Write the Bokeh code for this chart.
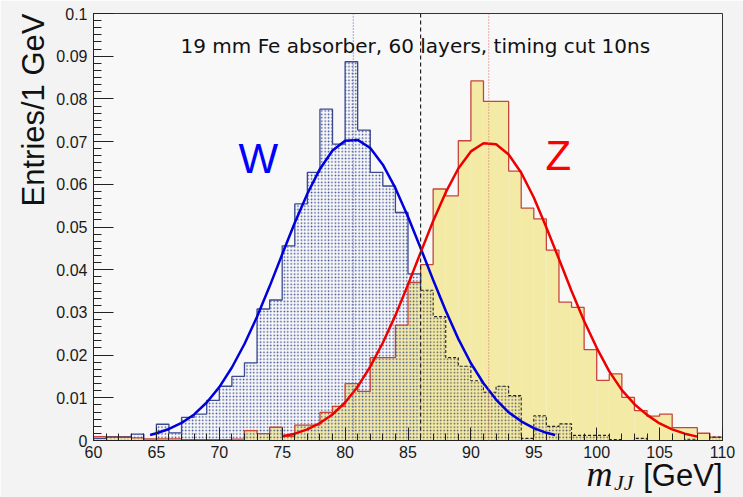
import numpy as np
from bokeh.plotting import figure
from bokeh.models import Span, Label, Range1d, FixedTicker, Title
from bokeh.embed import file_html
from bokeh.resources import INLINE

# ---------------- data ----------------
bin_lo = list(range(60, 110))          # bin lower edges (1 GeV bins)
bin_width = 1.0
cut_value = 86.0
w_mean_line = 80.65
z_mean_line = 91.42

w_entries = [0.0005, 0.0008, 0.0008, 0.0015, 0.0000, 0.0038, 0.0018, 0.0054, 0.0062, 0.0094,
             0.0127, 0.0150, 0.0182, 0.0308, 0.0329, 0.0456, 0.0554, 0.0628, 0.0776, 0.0694,
             0.0887, 0.0727, 0.0628, 0.0596, 0.0534, 0.0390, 0.0352, 0.0290, 0.0194, 0.0174,
             0.0140, 0.0113, 0.0127, 0.0105, 0.0005, 0.0058, 0.0033, 0.0039, 0.0012, 0.0012,
             0.0012, 0.0002, 0.0000, 0.0005, 0.0000, 0.0000, 0.0000, 0.0003, 0.0000, 0.0008]

z_entries = [0.0009, 0.0009, 0.0009, 0.0006, 0.0004, 0.0004, 0.0004, 0.0002, 0.0002, 0.0002,
             0.0002, 0.0003, 0.0023, 0.0016, 0.0031, 0.0010, 0.0036, 0.0036, 0.0066, 0.0080,
             0.0133, 0.0115, 0.0194, 0.0194, 0.0270, 0.0370, 0.0412, 0.0589, 0.0573, 0.0702,
             0.0842, 0.0794, 0.0794, 0.0631, 0.0544, 0.0519, 0.0446, 0.0324, 0.0312, 0.0213,
             0.0141, 0.0156, 0.0101, 0.0070, 0.0057, 0.0062, 0.0030, 0.0030, 0.0017, 0.0008]

w_fit_x = [64.5, 65, 66, 67, 68, 69, 70, 71, 72, 73, 74, 75, 76, 77, 78, 79, 80, 81, 82, 83,
           84, 85, 86, 87, 88, 89, 90, 91, 92, 93, 94, 95, 96, 96.7]
w_fit_y = [0.0013, 0.0017, 0.0027, 0.0041, 0.0061, 0.0089, 0.0125, 0.0171, 0.0226, 0.0290,
           0.0361, 0.0436, 0.0510, 0.0578, 0.0636, 0.0679, 0.0702, 0.0704, 0.0685, 0.0646,
           0.0591, 0.0524, 0.0451, 0.0376, 0.0304, 0.0238, 0.0181, 0.0134, 0.0096, 0.0066,
           0.0045, 0.0029, 0.0018, 0.0013]

z_fit_x = [75, 76, 77, 78, 79, 80, 81, 82, 83, 84, 85, 86, 87, 88, 89, 90, 91, 92, 93, 94,
           95, 96, 97, 98, 99, 100, 101, 102, 103, 104, 105, 106, 107, 108]
z_fit_y = [0.0010, 0.0016, 0.0026, 0.0041, 0.0061, 0.0089, 0.0126, 0.0173, 0.0229, 0.0293,
           0.0365, 0.0440, 0.0514, 0.0581, 0.0637, 0.0677, 0.0696, 0.0694, 0.0670, 0.0627,
           0.0569, 0.0499, 0.0425, 0.0350, 0.0280, 0.0217, 0.0162, 0.0118, 0.0085, 0.0060,
           0.0040, 0.0026, 0.0016, 0.0009]

x_major = [60, 65, 70, 75, 80, 85, 90, 95, 100, 105, 110]
x_tick_labels = ["60", "65", "70", "75", "80", "85", "90", "95", "100", "105", "110"]
y_major = [0.0, 0.01, 0.02, 0.03, 0.04, 0.05, 0.06, 0.07, 0.08, 0.09, 0.1]
y_tick_labels = ["0", "0.01", "0.02", "0.03", "0.04", "0.05", "0.06", "0.07", "0.08", "0.09", "0.1"]

title_text = "19 mm Fe absorber, 60 layers, timing cut 10ns"
y_title = "Entries/1 GeV"

# ---------------- helpers ----------------
def outline(lo, vals, start_zero=True):
    xs, ys = [], []
    if start_zero:
        xs.append(lo[0]); ys.append(0.0)
    for l, v in zip(lo, vals):
        xs += [l, l + bin_width]
        ys += [v, v]
    return xs, ys

lo = np.array(bin_lo, dtype=float)
w = np.array(w_entries)
z = np.array(z_entries)
left_mask = lo < cut_value
right_mask = ~left_mask

# ---------------- figure ----------------
p = figure(width=743, height=497, output_backend="svg", toolbar_location=None,
           x_range=Range1d(60, 110), y_range=Range1d(0, 0.1),
           min_border_left=93, min_border_right=21, min_border_top=13, min_border_bottom=57)
p.background_fill_color = "#f8f8f8"
p.border_fill_color = "#f3f3f3"
p.outline_line_color = "#333333"
p.outline_line_width = 1
p.grid.visible = False

# Z histogram (yellow)
p.quad(left=lo, right=lo + bin_width, bottom=0, top=z, fill_color="#f3eaa6",
       line_color=None)
# W histogram, dotted fill
p.quad(left=lo[left_mask], right=lo[left_mask] + bin_width, bottom=0, top=w[left_mask],
       fill_color=None, line_color=None, hatch_pattern="dot", hatch_color="#3c4d95",
       hatch_scale=3.4, hatch_weight=1.0)
p.quad(left=lo[right_mask], right=lo[right_mask] + bin_width, bottom=0, top=w[right_mask],
       fill_color=None, line_color=None, hatch_pattern="dot", hatch_color="#555555",
       hatch_scale=3.4, hatch_weight=1.0)

# outlines
zx, zy = outline(list(lo), list(z))
p.line(zx, zy, line_color="#c8453a", line_width=1.3)

wlx, wly = outline(list(lo[left_mask]), list(w[left_mask]))
wlx.append(cut_value); wly.append(float(w[right_mask][0]))
p.line(wlx, wly, line_color="#3a4a90", line_width=1.3)
wrx, wry = outline(list(lo[right_mask]), list(w[right_mask]), start_zero=False)
p.line(wrx, wry, line_color="#222222", line_width=1.1, line_dash="3 2")

# fits
p.line(w_fit_x, w_fit_y, line_color="#0000dd", line_width=2.5)
p.line(z_fit_x, z_fit_y, line_color="#ee0000", line_width=2.5)

# vertical lines
p.add_layout(Span(location=w_mean_line, dimension="height", line_color="#5555cc",
                  line_dash="1 2", line_width=1))
p.add_layout(Span(location=z_mean_line, dimension="height", line_color="#d86060",
                  line_dash="1 2", line_width=1))
p.add_layout(Span(location=cut_value, dimension="height", line_color="#222222",
                  line_dash="4 3", line_width=1.2))

# axes
p.xaxis.ticker = FixedTicker(ticks=x_major, minor_ticks=list(np.arange(60, 111, 1.0)))
p.xaxis.major_label_overrides = {t: s for t, s in zip(x_major, x_tick_labels)}
p.yaxis.ticker = FixedTicker(ticks=y_major, minor_ticks=list(np.arange(0, 0.1001, 0.01 / 6)))
p.yaxis.major_label_overrides = {t: s for t, s in zip(y_major, y_tick_labels)}
for ax in (p.xaxis, p.yaxis):
    ax.axis_line_color = "#222222"
    ax.major_tick_line_color = "#222222"
    ax.minor_tick_line_color = "#222222"
    ax.major_tick_out = 0
    ax.minor_tick_out = 0
    ax.major_label_text_font = "Liberation Sans"
    ax.major_label_text_font_size = "16px"
    ax.major_label_text_color = "#1a1a1a"
p.yaxis.major_tick_in = 20
p.yaxis.minor_tick_in = 8
p.yaxis.major_label_standoff = 6
p.xaxis.major_tick_in = 13
p.xaxis.minor_tick_in = 7
p.xaxis.major_label_standoff = 5

# texts inside the frame (screen units measured from the frame's bottom-left corner)
p.add_layout(Label(x=87, y=395, x_units="screen", y_units="screen", text=title_text,
                   text_font="DejaVu Sans", text_font_size="20px",
                   text_color="#111111", text_baseline="middle"))
p.add_layout(Label(x=145, y=282, x_units="screen", y_units="screen", text="W",
                   text_font="Liberation Sans", text_font_size="42px",
                   text_color="#0000ff", text_baseline="alphabetic"))
p.add_layout(Label(x=452, y=285, x_units="screen", y_units="screen", text="Z",
                   text_font="Liberation Sans", text_font_size="42px",
                   text_color="#ff0000", text_baseline="alphabetic"))

# y-axis title, top-aligned (ROOT style)
p.add_layout(Title(text=y_title, align="right", vertical_align="bottom", standoff=6,
                   text_font="Liberation Sans", text_font_size="31px",
                   text_font_style="normal", text_color="#111111"), "left")

# x-axis title: m_JJ [GeV], right-aligned, built from three pieces on one row
p.add_layout(Title(text="\u00a0", text_font_size="4px", standoff=4.5,
                   text_font_style="normal"), "below")
p.add_layout(Title(text="m", align="right", vertical_align="middle", offset=110,
                   standoff=-40, text_font="Liberation Serif", text_font_style="italic",
                   text_font_size="36px", text_color="#111111"), "below")
p.add_layout(Title(text="[GeV]", align="right", vertical_align="middle", offset=0,
                   standoff=-34.6, text_font="Liberation Sans", text_font_style="normal",
                   text_font_size="31px", text_color="#111111"), "below")
p.add_layout(Title(text="JJ", align="right", vertical_align="middle", offset=89,
                   standoff=-15.6, text_font="Liberation Serif", text_font_style="italic",
                   text_font_size="22px", text_color="#111111"), "below")

open("out.html", "w").write(file_html(p, INLINE))
